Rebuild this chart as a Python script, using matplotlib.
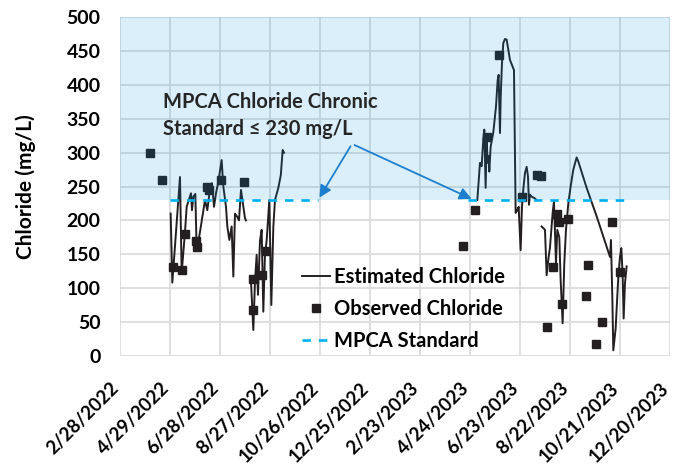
import matplotlib
matplotlib.use('Agg')
import matplotlib.pyplot as plt
import matplotlib.dates as mdates
from matplotlib.ticker import FuncFormatter
from matplotlib.lines import Line2D
import numpy as np
import pandas as pd

plt.rcParams['font.family'] = ['Lato', 'DejaVu Sans']
plt.rcParams['font.weight'] = 'bold'

START = pd.Timestamp('2022-02-28')

# x values are days after 2/28/2022
est_day = [60.8, 62.8, 72, 74, 78, 80, 85.2, 86.4, 88, 90.4, 92, 93.6, 96, 99.2, 102, 104.8,
           108, 110.4, 112.8, 115.2, 118, 122, 124, 127.2, 128.8, 131.2, 134, 136, 138, 140.8,
           142.8, 145.2, 150, 151.2, 154,
           157.2, 160, 162, 164, 165.6, 168, 170, 172, 174, 176, 179.2, 181.6, 184, 186, 190,
           193, 195.2, 196.8, 300,
           428.8, 432, 434, 436, 437.2, 438.8, 440, 441.2, 442.4, 443.2, 444.8, 448, 451.2,
           453.2, 454.4, 456, 456.8, 458.4, 460, 462, 464, 466, 468, 472.8, 474.8, 476.8,
           478.4, 480.8, 482.4, 484, 486, 488, 489.6, 490.8, 492, 494, 497.2, 500, 503,
           506, 510, 512, 514, 516, 519.2, 520.8, 523.2, 524.8, 527.2, 528.8, 531.2, 533.2,
           535.2, 538, 540.8, 544, 548, 550, 560, 572, 584, 588, 589.2, 590.8, 592, 594.8,
           598, 600, 601.6, 603.2, 604.4, 606, 608]
est_val = [210, 108, 264, 122, 183, 220, 240, 215, 235, 239, 156, 165, 183, 208, 230, 215,
           247, 255, 220, 240, 257, 289, 250, 220, 191, 171, 191, 117, 210, 205,
           200, 245, 203, 200, np.nan,
           110, 38, 110, 149, 90, 170, 186, 65, 150, 170, 230, 75, 190, 230, 248,
           267, 304, 300, np.nan,
           230, 285, 280, 320, 334, 248, 320, 285, 295, 272, 309, 330, 368,
           407, 415, 329, 380, 432, 462, 468, 467, 452, 437, 422, 211, 215, 220,
           156, 220, 246, 270, 279, 265, 223, 238, 235, 233, 230, np.nan,
           191, 186, 119, 142, 160, 211, 228, 137, 186, 175, 112, 48, 137,
           186, 225, 250, 275, 293, 287, 248, 206, 161, 146, 171, 87, 8, 40,
           117, 146, 159, 120, 55, 107, 132]

obs_day = [36, 50, 64, 74, 78, 91, 93, 104, 107, 121, 149, 160, 160, 170, 175,
           412, 426, 440, 455, 482, 500, 505, 512, 520, 524, 527, 531, 538, 559,
           562, 571, 579, 590, 600]
obs_val = [300, 260, 131, 126, 180, 170, 160, 250, 245, 259, 256, 114, 67, 120, 154,
           162, 215, 323, 444, 235, 267, 265, 42, 131, 209, 197, 76, 202, 88,
           134, 17, 50, 197, 123]

std_day = [60, 238, 328, 418, 610]
std_val = [230, 230, np.nan, 230, 230]

STANDARD = 230
tick_days = list(range(0, 661, 60))

LINE_COLOR = '#231F20'
STD_COLOR = '#00B0F0'
DASH = (0, (3.2, 3))


def to_dates(days):
    return START + pd.to_timedelta(days, unit='D')


def date_label(v, pos):
    d = mdates.num2date(v)
    return f"{d.month}/{d.day}/{d.year}"


fig = plt.figure(figsize=(6.73, 4.65), dpi=100)
ax = fig.add_axes([0.1783, 0.235, 0.8172, 0.7278])

ax.plot(to_dates(est_day), est_val, color=LINE_COLOR, linewidth=1.4, zorder=3)
ax.plot(to_dates(obs_day), obs_val, linestyle='none', marker='s', markersize=6,
        color=LINE_COLOR, zorder=4)
ax.plot(to_dates(std_day), std_val, linestyle=DASH, color=STD_COLOR,
        linewidth=1.9, zorder=6)

# translucent shading above the standard, drawn over the data
ax.axhspan(STANDARD, 500, color='#0094DB', alpha=0.145, linewidth=0, zorder=5)

ax.set_xlim(to_dates([0])[0], to_dates([660])[0])
ax.set_ylim(0, 500)
ax.set_yticks(range(0, 501, 50))
ax.set_xticks(to_dates(tick_days))
ax.xaxis.set_major_formatter(FuncFormatter(date_label))
ax.grid(True, color='#D9D9D9', linewidth=1.2, zorder=0)
ax.set_axisbelow(True)
for s in ax.spines.values():
    s.set_visible(False)
ax.tick_params(length=0)
ax.tick_params(axis='y', labelsize=14, pad=14)
ax.tick_params(axis='x', labelsize=13.5, pad=24)
for lab in ax.get_xticklabels():
    lab.set_rotation(45)
    lab.set_ha('right')
    lab.set_va('baseline')
    lab.set_rotation_mode('anchor')
    lab.set_fontweight('bold')
for lab in ax.get_yticklabels():
    lab.set_fontweight('bold')
ax.set_ylabel('Chloride (mg/L)', fontsize=15, fontweight='bold', labelpad=22)

ax.text(to_dates([52])[0], 390, 'MPCA Chloride Chronic\nStandard \u2264 230 mg/L',
        fontsize=14.5, fontweight='bold', color='#262626', va='top', ha='left',
        linespacing=1.45, zorder=7)
arrow_props = dict(arrowstyle='-|>', color='#1F7FCF', linewidth=1.3, mutation_scale=18)
ax.annotate('', xy=(to_dates([237.6])[0], STANDARD), xytext=(to_dates([278.4])[0], 313),
            arrowprops=arrow_props, zorder=7)
ax.annotate('', xy=(to_dates([425])[0], STANDARD), xytext=(to_dates([278.4])[0], 313),
            arrowprops=arrow_props, zorder=7)

handles = [
    Line2D([], [], color=LINE_COLOR, linewidth=1.4),
    Line2D([], [], linestyle='none', marker='s', markersize=6, color=LINE_COLOR),
    Line2D([], [], color=STD_COLOR, linestyle=DASH, linewidth=1.9),
]
ax.legend(handles, ['Estimated Chloride', 'Observed Chloride', 'MPCA Standard'],
          loc='center left', bbox_to_anchor=(0.331, 0.137), frameon=False,
          borderaxespad=0, borderpad=0,
          prop={'size': 14.5, 'weight': 'bold'}, handlelength=1.4, labelspacing=0.6,
          handletextpad=0.2)

fig.savefig('out.png', dpi=100)
